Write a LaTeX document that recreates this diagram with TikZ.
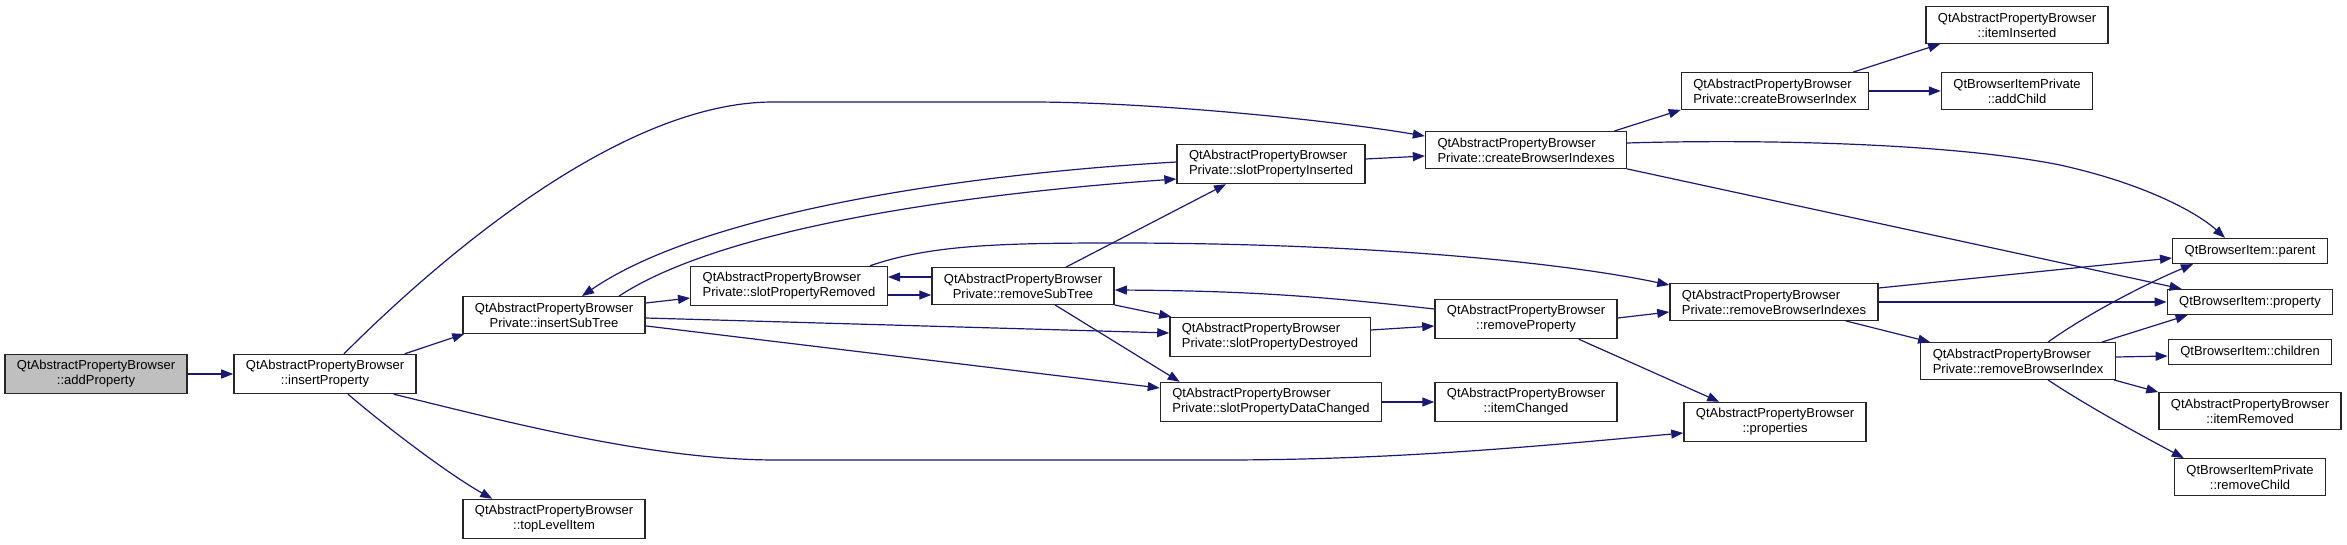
\documentclass[tikz,border=0pt]{standalone}
\usepackage{fontspec}
\setmainfont{Liberation Sans}
\usepackage{tikz}
\usetikzlibrary{arrows.meta,calc}
\definecolor{edgeblue}{HTML}{191970}
\definecolor{rootgray}{HTML}{BFBFBF}

\begin{document}
\begin{tikzpicture}[x=1bp, y=-1bp, font=\fontsize{13bp}{15bp}\selectfont]
  \tikzstyle{fn}=[draw=black!85, line width=1.3bp, fill=white, inner xsep=12bp, inner ysep=6bp, minimum height=25bp, align=center]
  \tikzstyle{call}=[draw=edgeblue, line width=1.2bp, -{Triangle[length=12bp,width=9bp]}]
  \useasboundingbox (0,0) rectangle (2347,545);
  % functions
  \node[fn,fill=rootgray] (addP) at (96,374) {QtAbstractPropertyBrowser\\::addProperty};
  \node[fn] (insP) at (325,374) {QtAbstractPropertyBrowser\\::insertProperty};
  \node[fn] (insST) at (554,315) {QtAbstractPropertyBrowser\\Private::insertSubTree};
  \node[fn] (topLI) at (554,519) {QtAbstractPropertyBrowser\\::topLevelItem};
  \node[fn,align=left] (sPR) at (789,286) {QtAbstractPropertyBrowser\\Private::slotPropertyRemoved};
  \node[fn] (rST) at (1023,286) {QtAbstractPropertyBrowser\\Private::removeSubTree};
  \node[fn,align=left] (sPI) at (1271,164) {QtAbstractPropertyBrowser\\Private::slotPropertyInserted};
  \node[fn,align=left] (sPD) at (1270,337) {QtAbstractPropertyBrowser\\Private::slotPropertyDestroyed};
  \node[fn,align=left] (sPDC) at (1271,402) {QtAbstractPropertyBrowser\\Private::slotPropertyDataChanged};
  \node[fn,align=left] (cBIs) at (1526,150) {QtAbstractPropertyBrowser\\Private::createBrowserIndexes};
  \node[fn] (rP) at (1526,319) {QtAbstractPropertyBrowser\\::removeProperty};
  \node[fn] (itemCh) at (1526,402) {QtAbstractPropertyBrowser\\::itemChanged};
  \node[fn,align=left] (cBI) at (1775,91) {QtAbstractPropertyBrowser\\Private::createBrowserIndex};
  \node[fn,align=left] (rBIs) at (1774,302) {QtAbstractPropertyBrowser\\Private::removeBrowserIndexes};
  \node[fn] (props) at (1775,422) {QtAbstractPropertyBrowser\\::properties};
  \node[fn] (itemIns) at (2017,25) {QtAbstractPropertyBrowser\\::itemInserted};
  \node[fn] (addCh) at (2017,91) {QtBrowserItemPrivate\\::addChild};
  \node[fn,align=left] (rBI) at (2018,361) {QtAbstractPropertyBrowser\\Private::removeBrowserIndex};
  \node[fn] (parent) at (2250,251) {QtBrowserItem::parent};
  \node[fn] (prop) at (2250,302) {QtBrowserItem::property};
  \node[fn] (child) at (2250,352) {QtBrowserItem::children};
  \node[fn] (itemRem) at (2250,411) {QtAbstractPropertyBrowser\\::itemRemoved};
  \node[fn] (remCh) at (2250,477) {QtBrowserItemPrivate\\::removeChild};
  % calls
  \draw[call] (addP) -- (insP);
  \draw[call] ($(insP.north east)+(-12,0)$) -- ($(insST.south west)+(2,0)$);
  \draw[call] ($(insP.north)+(19,0)$) .. controls +(100,-100) and (623,102) .. (773,102) -- (1030,102)
    .. controls (1150,102) and (1330,120) .. ($(cBIs.north west)+(0,5)$);
  \draw[call] ($(insP.south east)+(-23,0)$) .. controls (500,420) and (650,460) .. (776,460) -- (1222,460)
    .. controls (1400,460) and (1550,445) .. ($(props.west)+(0,11)$);
  \draw[call] ($(insP.south)+(23,0)$) .. controls (390,430) and (450,475) .. ($(topLI.north west)+(30,0)$);
  \draw[call] ($(insST.east)+(0,-12)$) -- ($(sPR.west)+(0,12)$);
  \draw[call] ($(insST.north)+(65,0)$) .. controls (720,230) and (950,195) .. ($(sPI.west)+(0,15)$);
  \draw[call] ($(sPI.west)+(0,-2)$) .. controls (950,175) and (700,215) .. ($(insST.north)+(28,0)$);
  \draw[call] ($(insST.east)+(0,3)$) -- ($(sPD.west)+(0,-4)$);
  \draw[call] ($(insST.south east)+(0,-8)$) -- ($(sPDC.west)+(0,-14)$);
  \draw[call] ($(sPR.east)+(0,9)$) -- ($(rST.west)+(0,9)$);
  \draw[call] ($(rST.west)+(0,-9)$) -- ($(sPR.east)+(0,-9)$);
  \draw[call] ($(sPR.north east)+(-18,0)$) .. controls (930,245) and (1000,243) .. (1116,243)
    .. controls (1350,243) and (1550,260) .. ($(rBIs.west)+(0,-17)$);
  \draw[call] ($(rST.north)+(43,0)$) -- ($(sPI.south)+(-45,0)$);
  \draw[call] ($(rST.east)+(0,19)$) -- ($(sPD.north west)+(2,0)$);
  \draw[call] ($(rST.south)+(32,0)$) -- ($(sPDC.north west)+(20,0)$);
  \draw[call] ($(rP.west)+(0,-10)$) to[bend right=3] ($(rST.east)+(0,4)$);
  \draw[call] ($(sPD.east)+(0,-7)$) -- ($(rP.west)+(0,7)$);
  \draw[call] (sPDC) -- (itemCh);
  \draw[call] ($(sPI.east)+(0,-5)$) -- ($(cBIs.west)+(0,6)$);
  \draw[call] ($(cBIs.north east)+(-13,0)$) -- (cBI.south west);
  \draw[call] ($(cBIs.east)+(0,-7)$) .. controls (1760,139) and (1950,143) .. (2060,165)
    .. controls (2150,185) and (2200,215) .. ($(parent.north west)+(53,0)$);
  \draw[call] (cBIs.south east) -- ($(prop.north west)+(15,0)$);
  \draw[call] ($(cBI.north east)+(-16,0)$) -- ($(itemIns.south west)+(15,0)$);
  \draw[call] (cBI) -- (addCh);
  \draw[call] ($(rP.east)+(0,-1)$) -- ($(rBIs.west)+(0,10)$);
  \draw[call] ($(rP.south east)+(-39,0)$) -- ($(props.north west)+(36,0)$);
  \draw[call] ($(rBIs.east)+(0,-14)$) -- ($(parent.west)+(0,7)$);
  \draw[call] (rBIs) -- (prop);
  \draw[call] ($(rBIs.south east)+(-33,0)$) -- ($(rBI.north west)+(10,0)$);
  \draw[call] ($(rBI.north)+(30,0)$) .. controls (2090,312) and (2150,282) .. ($(parent.south west)+(21,0)$);
  \draw[call] ($(rBI.north east)+(-14,0)$) -- ($(prop.south west)+(21,0)$);
  \draw[call] ($(rBI.east)+(0,-4)$) -- ($(child.west)+(0,4)$);
  \draw[call] ($(rBI.south east)+(-2,0)$) -- (itemRem.north west);
  \draw[call] ($(rBI.south)+(30,0)$) .. controls (2090,408) and (2150,440) .. ($(remCh.north west)+(10,0)$);
\end{tikzpicture}
\end{document}
